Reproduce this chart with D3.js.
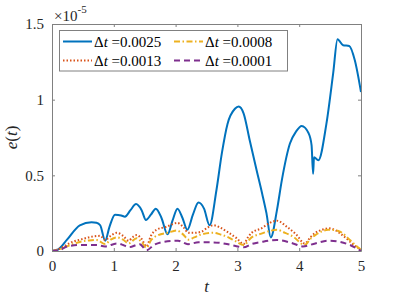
<!DOCTYPE html>
<html>
<head>
<meta charset="utf-8">
<script src="https://cdn.jsdelivr.net/npm/d3@7"></script>
<style>
  body { margin: 0; background: #fff; }
</style>
</head>
<body>
<div id="chart"></div>
<script>
const width = 399;
const height = 299;
const margin = { top: 24, right: 38, bottom: 48, left: 52 };
const serif = "'Liberation Serif', 'Times New Roman', serif";

// values are in units of 1e-5
const tBlue = [0, 0.1, 0.24, 0.45, 0.64, 0.72, 0.78, 0.86, 0.93, 1.02, 1.12, 1.18, 1.27, 1.36, 1.45, 1.52, 1.6, 1.68, 1.77, 1.87, 1.95, 2.03, 2.11, 2.19, 2.28, 2.37, 2.46, 2.55, 2.66, 2.75, 2.84, 2.96, 3.02, 3.10, 3.20, 3.31, 3.40, 3.47, 3.54, 3.64, 3.72, 3.85, 3.95, 4.04, 4.15, 4.20, 4.225, 4.24, 4.31, 4.44, 4.55, 4.62, 4.71, 4.81, 4.90, 5.0];
const eBlue = [0, 0.01, 0.073, 0.17, 0.19, 0.187, 0.17, 0.068, 0.16, 0.24, 0.235, 0.227, 0.27, 0.31, 0.27, 0.205, 0.24, 0.28, 0.22, 0.11, 0.2, 0.28, 0.22, 0.14, 0.24, 0.32, 0.28, 0.17, 0.40, 0.65, 0.84, 0.94, 0.955, 0.91, 0.73, 0.535, 0.38, 0.25, 0.09, 0.27, 0.47, 0.71, 0.79, 0.826, 0.78, 0.70, 0.51, 0.62, 0.60, 0.84, 1.175, 1.40, 1.36, 1.355, 1.26, 1.05];

const tRed = [0, 0.15, 0.3, 0.5, 0.65, 0.78, 0.86, 0.95, 1.05, 1.15, 1.24, 1.3, 1.37, 1.45, 1.53, 1.6, 1.69, 1.85, 2.03, 2.12, 2.21, 2.3, 2.42, 2.52, 2.61, 2.72, 2.83, 2.99, 3.10, 3.17, 3.23, 3.39, 3.5, 3.64, 3.8, 3.95, 4.09, 4.18, 4.26, 4.37, 4.47, 4.57, 4.66, 4.8, 4.9, 5.0];
const eRed = [0, 0.02, 0.055, 0.08, 0.095, 0.10, 0.073, 0.1, 0.12, 0.1, 0.068, 0.09, 0.105, 0.08, 0.03, 0.1, 0.14, 0.16, 0.185, 0.16, 0.12, 0.12, 0.128, 0.155, 0.17, 0.155, 0.128, 0.084, 0.046, 0.09, 0.12, 0.15, 0.18, 0.20, 0.16, 0.11, 0.05, 0.09, 0.12, 0.14, 0.15, 0.14, 0.117, 0.07, 0.035, 0.007];

const tYellow = [0, 0.15, 0.3, 0.45, 0.6, 0.72, 0.86, 0.95, 1.05, 1.15, 1.24, 1.37, 1.45, 1.53, 1.6, 1.72, 1.87, 2.02, 2.12, 2.21, 2.3, 2.42, 2.61, 2.72, 2.83, 2.97, 3.10, 3.23, 3.39, 3.5, 3.64, 3.77, 3.9, 4.09, 4.18, 4.26, 4.37, 4.47, 4.57, 4.66, 4.82, 4.92, 5.0];
const eYellow = [0, 0.015, 0.04, 0.06, 0.07, 0.073, 0.046, 0.075, 0.09, 0.075, 0.05, 0.085, 0.06, 0.02, 0.07, 0.105, 0.12, 0.135, 0.11, 0.075, 0.09, 0.11, 0.12, 0.11, 0.095, 0.065, 0.04, 0.09, 0.115, 0.13, 0.14, 0.12, 0.095, 0.04, 0.08, 0.105, 0.13, 0.14, 0.138, 0.128, 0.073, 0.035, 0.008];

const tPurple = [0, 0.15, 0.24, 0.45, 0.72, 0.86, 1.05, 1.15, 1.24, 1.42, 1.53, 1.65, 1.8, 2.04, 2.2, 2.37, 2.61, 2.83, 2.97, 3.10, 3.23, 3.39, 3.64, 3.9, 4.06, 4.26, 4.47, 4.66, 4.82, 5.0];
const ePurple = [0, 0.01, 0.03, 0.04, 0.04, 0.03, 0.05, 0.04, 0.025, 0.045, 0.005, 0.04, 0.06, 0.068, 0.045, 0.057, 0.057, 0.046, 0.033, 0.024, 0.046, 0.06, 0.073, 0.05, 0.03, 0.05, 0.068, 0.06, 0.04, 0.0];

const seriesLabels = ["0.0025", "0.0013", "0.0008", "0.0001"];
const xTicks = [0, 1, 2, 3, 4, 5];
const yTicks = [0, 0.5, 1, 1.5];

const series = [
    { label: seriesLabels[0], t: tBlue, e: eBlue, color: "#0072BD", dash: null },
    { label: seriesLabels[1], t: tRed, e: eRed, color: "#D95319", dash: "1.5,2" },
    { label: seriesLabels[2], t: tYellow, e: eYellow, color: "#EDB120", dash: "6,2.5,1.5,2.5" },
    { label: seriesLabels[3], t: tPurple, e: ePurple, color: "#7E2F8E", dash: "6,4" }
];

const svg = d3.select("#chart").append("svg")
    .attr("width", width)
    .attr("height", height);

const x = d3.scaleLinear().domain([0, 5]).range([margin.left, width - margin.right]);
const y = d3.scaleLinear().domain([0, 1.5]).range([height - margin.bottom, margin.top]);

const axisColor = "#808080";

// lines
const line = d3.line().x(d => x(d[0])).y(d => y(d[1])).curve(d3.curveMonotoneX);

svg.append("clipPath").attr("id", "clip")
    .append("rect")
    .attr("x", margin.left).attr("y", margin.top)
    .attr("width", x(5) - x(0)).attr("height", y(0) - y(1.5));

series.forEach(s => {
    svg.append("path")
        .datum(s.t.map((t, i) => [t, s.e[i]]))
        .attr("clip-path", "url(#clip)")
        .attr("fill", "none")
        .attr("stroke", s.color)
        .attr("stroke-width", 2)
        .attr("stroke-dasharray", s.dash)
        .attr("d", line);
});

// axes (box with inward ticks)
const fmt = d => d === 0 ? "0" : String(d);
svg.append("g")
    .attr("transform", `translate(0,${y(0)})`)
    .call(d3.axisBottom(x).tickValues(xTicks).tickSizeInner(-3).tickSizeOuter(0).tickPadding(9).tickFormat(fmt))
    .call(g => g.selectAll("text").attr("dy", "0.75em"));
svg.append("g")
    .attr("transform", `translate(0,${y(1.5)})`)
    .call(d3.axisTop(x).tickValues(xTicks).tickSizeInner(-3).tickSizeOuter(0).tickFormat(""));
svg.append("g")
    .attr("transform", `translate(${x(0)},0)`)
    .call(d3.axisLeft(y).tickValues(yTicks).tickSizeInner(-3).tickSizeOuter(0).tickPadding(8).tickFormat(fmt));
svg.append("g")
    .attr("transform", `translate(${x(5)},0)`)
    .call(d3.axisRight(y).tickValues(yTicks).tickSizeInner(-3).tickSizeOuter(0).tickFormat(""));

svg.selectAll(".domain").attr("stroke", axisColor);
svg.selectAll(".tick line").attr("stroke", axisColor);
svg.selectAll(".tick text").attr("fill", "#262626").attr("font-family", serif).attr("font-size", 15);

// exponent label
const expo = svg.append("text")
    .attr("x", x(0) + 2)
    .attr("y", 21)
    .attr("fill", "#262626")
    .attr("font-family", serif)
    .attr("font-size", 15);
expo.append("tspan").text("×10");
expo.append("tspan").attr("font-size", 11).attr("dy", -8).text("-5");

// axis labels
svg.append("text")
    .attr("x", (x(0) + x(5)) / 2)
    .attr("y", 292)
    .attr("text-anchor", "middle")
    .attr("fill", "#262626")
    .attr("font-family", serif)
    .attr("font-size", 17)
    .attr("font-style", "italic")
    .text("t");

const yl = svg.append("text")
    .attr("transform", `translate(17,${(y(0) + y(1.5)) / 2}) rotate(-90)`)
    .attr("text-anchor", "middle")
    .attr("fill", "#262626")
    .attr("font-family", serif)
    .attr("font-size", 17);
yl.append("tspan").attr("font-style", "italic").text("e");
yl.append("tspan").text("(");
yl.append("tspan").attr("font-style", "italic").text("t");
yl.append("tspan").text(")");

// legend
const legend = svg.append("g").attr("id", "legend");
legend.append("rect")
    .attr("x", 59.5).attr("y", 30.5)
    .attr("width", 228).attr("height", 40.5)
    .attr("fill", "#fff")
    .attr("stroke", axisColor)
    .attr("stroke-width", 1);

const legendPos = [
    { lx: 63, ty: 41.5 },
    { lx: 63, ty: 60.5 },
    { lx: 174, ty: 41.5 },
    { lx: 174, ty: 60.5 }
];

series.forEach((s, i) => {
    const p = legendPos[i];
    legend.append("line")
        .attr("x1", p.lx).attr("x2", p.lx + 29)
        .attr("y1", p.ty).attr("y2", p.ty)
        .attr("stroke", s.color)
        .attr("stroke-width", 2)
        .attr("stroke-dasharray", s.dash);
    const tx = legend.append("text")
        .attr("x", p.lx + 31)
        .attr("y", p.ty + 5)
        .attr("fill", "#000")
        .attr("font-family", serif)
        .attr("font-size", 15);
    tx.append("tspan").text("Δ");
    tx.append("tspan").attr("font-style", "italic").text("t");
    tx.append("tspan").text(" =" + s.label);
});
</script>
</body>
</html>
